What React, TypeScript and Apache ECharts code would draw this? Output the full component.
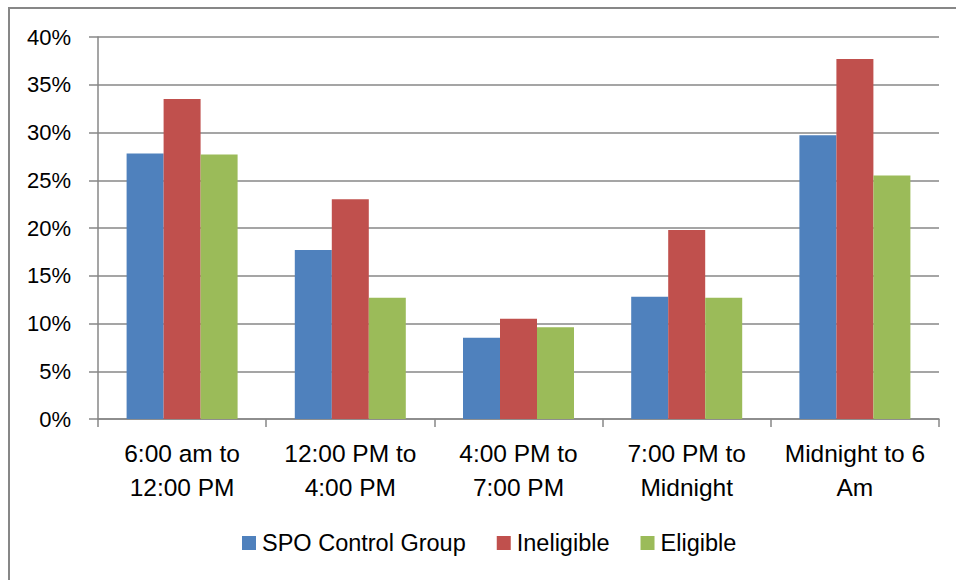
import React, { useEffect, useRef } from "react";
import * as echarts from "echarts";

const categories = [
  "6:00 am to\n12:00 PM",
  "12:00 PM to\n4:00 PM",
  "4:00 PM to\n7:00 PM",
  "7:00 PM to\nMidnight",
  "Midnight to 6\nAm",
];
const seriesNames = ["SPO Control Group", "Ineligible", "Eligible"];
const spoControl = [27.8, 17.7, 8.5, 12.8, 29.7];
const ineligible = [33.5, 23.0, 10.5, 19.8, 37.7];
const eligible = [27.7, 12.7, 9.6, 12.7, 25.5];
const colors = ["#4F81BD", "#C0504D", "#9BBB59"];

const FONT = "'Liberation Sans', Arial, sans-serif";

export default function App() {
  const ref = useRef<HTMLDivElement>(null);
  useEffect(() => {
    if (!ref.current) return;
    const chart = echarts.init(ref.current, undefined, { renderer: "svg" });
    const values = [spoControl, ineligible, eligible];
    chart.setOption({
      animation: false,
      backgroundColor: "#ffffff",
      textStyle: { fontFamily: FONT },
      grid: { left: 98, right: 17, top: 37, bottom: 161, containLabel: false },
      graphic: [
        {
          type: "line",
          shape: { x1: 9, y1: 8, x2: 9, y2: 580 },
          style: { stroke: "#878787", lineWidth: 2 },
        },
        {
          type: "line",
          shape: { x1: 8, y1: 8, x2: 956, y2: 8 },
          style: { stroke: "#878787", lineWidth: 2 },
        },
      ],
      legend: {
        left: 242,
        top: 531,
        padding: 0,
        itemWidth: 14,
        itemHeight: 14,
        itemGap: 31,
        icon: "rect",
        data: seriesNames,
        textStyle: { fontFamily: FONT, fontSize: 23.5, color: "#000", padding: [0, 0, 0, 1] },
      },
      xAxis: {
        type: "category",
        data: categories,
        axisLine: { lineStyle: { color: "#878787", width: 1.5 } },
        axisTick: { show: true, length: 8, alignWithLabel: false, lineStyle: { color: "#878787", width: 1.5 } },
        axisLabel: {
          fontFamily: FONT,
          fontSize: 24.5,
          color: "#000",
          lineHeight: 34,
          margin: 17,
          interval: 0,
        },
      },
      yAxis: {
        type: "value",
        min: 0,
        max: 40,
        interval: 5,
        axisLine: { show: true, lineStyle: { color: "#878787", width: 1.5 } },
        axisTick: { show: true, inside: false, length: 9, lineStyle: { color: "#878787", width: 1.5 } },
        splitLine: { show: true, lineStyle: { color: "#878787", width: 1.5 } },
        axisLabel: {
          fontFamily: FONT,
          fontSize: 22,
          color: "#000",
          margin: 27,
          formatter: "{value}%",
        },
      },
      series: seriesNames.map((name, i) => ({
        name,
        type: "bar",
        data: values[i],
        barWidth: 37,
        barGap: "0%",
        itemStyle: { color: colors[i] },
      })),
    });
    return () => chart.dispose();
  }, []);
  return (
    <div
      ref={ref}
      style={{ position: "fixed", left: 0, top: 0, width: 956, height: 580, background: "#fff" }}
    />
  );
}
